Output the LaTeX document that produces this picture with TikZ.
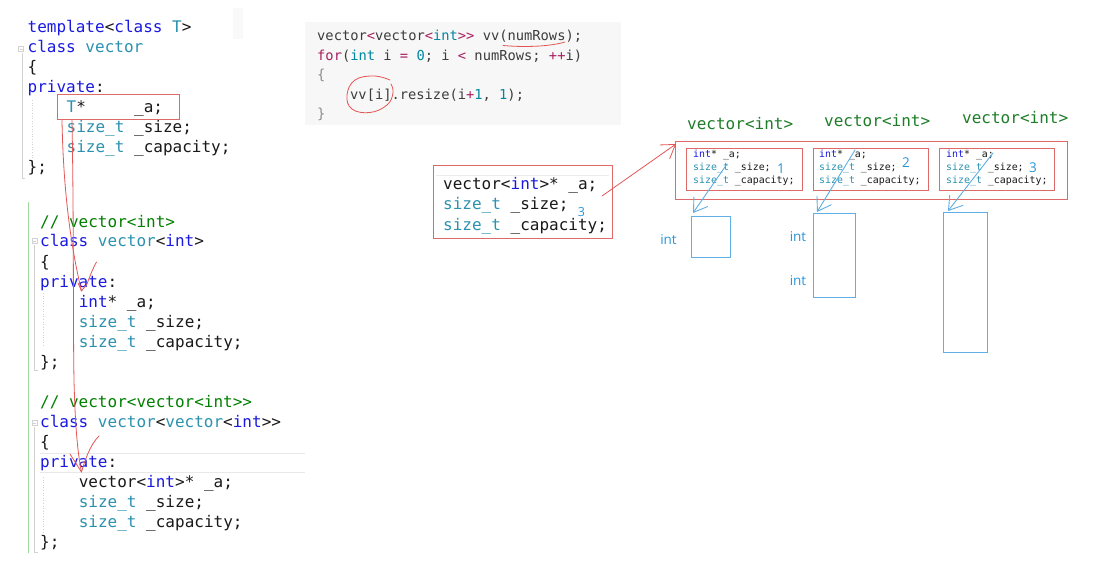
\documentclass[tikz,border=0pt]{standalone}
\usepackage{fontspec}
\usetikzlibrary{arrows.meta,calc}
\newfontfamily\cmono{DejaVu Sans Mono}
\newfontfamily\csans{Open Sans}
\definecolor{kwblue}{RGB}{25,25,225}
\definecolor{tyteal}{RGB}{43,145,175}
\definecolor{cmgreen}{RGB}{0,128,0}
\definecolor{txt}{RGB}{25,25,25}
\definecolor{sdark}{RGB}{60,60,60}
\definecolor{spurp}{RGB}{167,29,93}
\definecolor{steal}{RGB}{0,134,160}
\definecolor{sbrace}{RGB}{140,140,140}
\definecolor{redln}{RGB}{222,105,105}
\definecolor{penred}{RGB}{228,85,85}
\definecolor{bluln}{RGB}{95,175,228}
\definecolor{blutx}{RGB}{40,150,220}
\definecolor{lblgreen}{RGB}{30,125,40}
\definecolor{gline}{RGB}{160,215,160}
\newcommand\kw[1]{\textcolor{kwblue}{#1}}
\newcommand\ty[1]{\textcolor{tyteal}{#1}}
\newcommand\cmt[1]{\textcolor{cmgreen}{#1}}
\newcommand\spu[1]{\textcolor{spurp}{#1}}
\newcommand\ste[1]{\textcolor{steal}{#1}}
\begin{document}
\begin{tikzpicture}[x=1pt,y=-1pt,
  code/.style={font=\cmono\fontsize{16}{19}\selectfont, text=txt, inner sep=0pt, anchor=base west},
  snip/.style={font=\cmono\fontsize{13.75}{16}\selectfont, text=sdark, inner sep=0pt, anchor=base west},
  smallcode/.style={font=\cmono\fontsize{9.9}{12}\selectfont, text=txt, inner sep=0pt, anchor=base west},
  vlab/.style={font=\cmono\fontsize{16}{19}\selectfont, text=lblgreen, inner sep=0pt, anchor=base west},
  lbl/.style={font=\csans\fontsize{13.5}{16}\selectfont, text=blutx, inner sep=0pt},
  redbox/.style={draw=redln, line width=1pt, inner sep=0pt, anchor=north west},
  bluebox/.style={draw=bluln, line width=1.1pt, inner sep=0pt, anchor=north west},
  rpen/.style={draw=penred, line width=0.8pt, line cap=round, line join=round},
  bpen/.style={draw=bluln, line width=0.9pt, line cap=round, line join=round},
  barb/.style={-{Straight Barb[length=13pt,width=17pt]}},
  guide/.style={draw=gray!35, line width=0.6pt},
]
\useasboundingbox (0,0) rectangle (1100,564);
\fill[white] (0,0) rectangle (1100,564);

% faint panels
\fill[gray!5] (233,8) rectangle (243,39);
\fill[gray!6] (305,22) rectangle (621,125);

% ---------- left code: editor decorations ----------
\draw[guide] (22,53) -- (22,178) -- (25,178);
\draw[guide] (18.5,46.5) rectangle (23.5,51.5);
\draw[guide] (19.5,49) -- (22.5,49);
\draw[gray!35, dotted, line width=0.6pt] (32,100) -- (32,163);

\draw[gline, line width=1.2pt] (28.5,202) -- (28.5,553);
\draw[guide] (34.5,245) -- (34.5,370) -- (37.5,370);
\draw[guide] (32,238.5) rectangle (37,243.5);
\draw[guide] (33,241) -- (36,241);
\draw[gray!35, dotted, line width=0.6pt] (43,293) -- (43,347);

\draw[guide] (34.5,427) -- (34.5,552) -- (37.5,552);
\draw[guide] (32,420.5) rectangle (37,425.5);
\draw[guide] (33,423) -- (36,423);
\draw[gray!35, dotted, line width=0.6pt] (43,477) -- (43,532);
\draw[gray!18, line width=0.8pt] (40,453) -- (305,453);
\draw[gray!18, line width=0.8pt] (40,472) -- (305,472);

% ---------- left code block 1 ----------
\node[code] (a1) at (27.5,33) {\kw{template}<\kw{class} \ty{T}>};
\node[code] (a2) at (27.5,53) {\kw{class} \ty{vector}};
\node[code] (a3) at (27.5,73) {\{};
\node[code] (a4) at (27.5,93) {\kw{private}:};
\node[code] (a5) at (66.5,113) {\ty{T}*\ \ \ \ \ \_a;};
\node[code] (a6) at (66.5,133) {\ty{size\_t} \_size;};
\node[code] (a7) at (66.5,153) {\ty{size\_t} \_capacity;};
\node[code] (a8) at (27.5,173) {\};};
\node[redbox, minimum width=122pt, minimum height=25pt] (tbox) at (57.3,94.3) {};

% ---------- left code block 2 ----------
\node[code] (b1) at (40,227) {\cmt{// vector<int>}};
\node[code] (b2) at (40,247) {\kw{class} \ty{vector}<\kw{int}>};
\node[code] (b3) at (40,267) {\{};
\node[code] (b4) at (40,287) {\kw{private}:};
\node[code] (b5) at (78.6,307) {\kw{int}* \_a;};
\node[code] (b6) at (78.6,327) {\ty{size\_t} \_size;};
\node[code] (b7) at (78.6,347) {\ty{size\_t} \_capacity;};
\node[code] (b8) at (40,367) {\};};

% ---------- left code block 3 ----------
\node[code] (c1) at (40,407) {\cmt{// vector<vector<int>{}>}};
\node[code] (c2) at (40,427) {\kw{class} \ty{vector}<\ty{vector}<\kw{int}>{}>};
\node[code] (c3) at (40,447) {\{};
\node[code] (c4) at (40,467) {\kw{private}:};
\node[code] (c5) at (78.6,487) {vector<\kw{int}>* \_a;};
\node[code] (c6) at (78.6,507) {\ty{size\_t} \_size;};
\node[code] (c7) at (78.6,527) {\ty{size\_t} \_capacity;};
\node[code] (c8) at (40,547) {\};};

% red pen strokes on the left
\coordinate (p1tip) at (81.5,291);
\coordinate (p2tip) at (81.5,472);
\draw[rpen] ($(tbox.south west)+(4.7,0)$) .. controls (63,175) and (68,235) .. (p1tip);
\draw[rpen] (78,283) -- (p1tip) -- (87,284) .. controls (90,276) and (93,268) .. (96.5,262);
\draw[rpen] ($(tbox.south west)+(14.7,0)$) .. controls (74,230) and (73,330) .. (74,380)
            .. controls (75,420) and (77,450) .. (p2tip);
\draw[rpen] (70,454) -- (p2tip) .. controls (85,460) and (90,445) .. (99,436);

% ---------- top snippet ----------
\node[snip] (s1) at (317,41) {vector\spu{<}vector\spu{<}\ste{int}\spu{>{}>} vv(numRows);};
\node[snip] (s2) at (317,60.5) {\spu{for}(\ste{int} i \spu{=} \ste{0}; i \spu{<} numRows; \spu{++}i)};
\node[snip, text=sbrace] (s3) at (317,80) {\{};
\node[snip] (s4) at (350,99.5) {vv[i].resize(i\spu{+}\ste{1}, \ste{1});};
\node[snip, text=sbrace] (s5) at (317,119) {\}};
\draw[rpen] (503,45.5) .. controls (525,47.5) and (550,46.5) .. (565,42);
\draw[rpen] plot[smooth, tension=0.7] coordinates {(390,80) (374,76) (355,80) (347,95) (352,109) (370,112.5) (387,105) (393,93) (391,84)};

% ---------- middle box ----------
\node[redbox, minimum width=179pt, minimum height=73pt] (mbox) at (433,165) {};
\draw[gray!15, line width=0.8pt] (436,175) -- (609,175);
\node[code] (m1) at (443,190) {vector<\kw{int}>* \_a;};
\node[code] (m2) at (443,210) {\ty{size\_t} \_size;};
\node[code] (m3) at (443,230) {\ty{size\_t} \_capacity;};
\node[lbl, font=\csans\fontsize{12.5}{15}\selectfont] (m3n) at (581.5,212) {3};
\coordinate (mstart) at (602,196);

% ---------- right: vector<int> objects ----------
\node[vlab] (v1) at (687,130) {vector<int>};
\node[vlab] (v2) at (824,127) {vector<int>};
\node[vlab] (v3) at (962,124) {vector<int>};

\node[redbox, minimum width=392pt, minimum height=58pt] (big) at (675,141) {};
\node[redbox, minimum width=116pt, minimum height=42pt] (o1) at (686,148) {};
\node[redbox, minimum width=115pt, minimum height=42pt] (o2) at (813,148) {};
\node[redbox, minimum width=115pt, minimum height=42pt] (o3) at (939,148) {};

\node[smallcode] (o1a) at (693,158) {\kw{int}* \_a;};
\node[smallcode] (o1b) at (693,171) {\ty{size\_t} \_size;};
\node[smallcode] (o1c) at (693,184) {\ty{size\_t} \_capacity;};
\node[smallcode] (o2a) at (819,157.5) {\kw{int}* \_a;};
\node[smallcode] (o2b) at (819,170.5) {\ty{size\_t} \_size;};
\node[smallcode] (o2c) at (819,183.5) {\ty{size\_t} \_capacity;};
\node[smallcode] (o3a) at (946,158) {\kw{int}* \_a;};
\node[smallcode] (o3b) at (946,171) {\ty{size\_t} \_size;};
\node[smallcode] (o3c) at (946,184) {\ty{size\_t} \_capacity;};

\node[lbl] (n1) at (781,169) {1};
\node[lbl] (n2) at (906,163) {2};
\node[lbl] (n3) at (1033,167.5) {3};

% int arrays
\node[bluebox, minimum width=39pt, minimum height=41pt] (ia1) at (691,216) {};
\node[bluebox, minimum width=42pt, minimum height=84pt] (ia2) at (813,213) {};
\node[bluebox, minimum width=44pt, minimum height=140pt] (ia3) at (943,212) {};
\node[lbl] (i1) at (668.5,239.5) {int};
\node[lbl] (i2) at (798,236.5) {int};
\node[lbl] (i3) at (798,281) {int};

% pointer arrows
\coordinate (q1) at (727,164);
\coordinate (q2) at (855,150);
\coordinate (q3) at (993,153);
\draw[bpen, barb] (q1) -- ($(ia1.north west)+(2,-3)$);
\draw[bpen, barb] (q2) -- ($(ia2.north west)+(4,-1)$);
\draw[bpen, barb] (q3) -- ($(ia3.north west)+(5,-1)$);
\draw[rpen, barb] (mstart) -- ($(big.north west)+(1,3)$);
\end{tikzpicture}
\end{document}
